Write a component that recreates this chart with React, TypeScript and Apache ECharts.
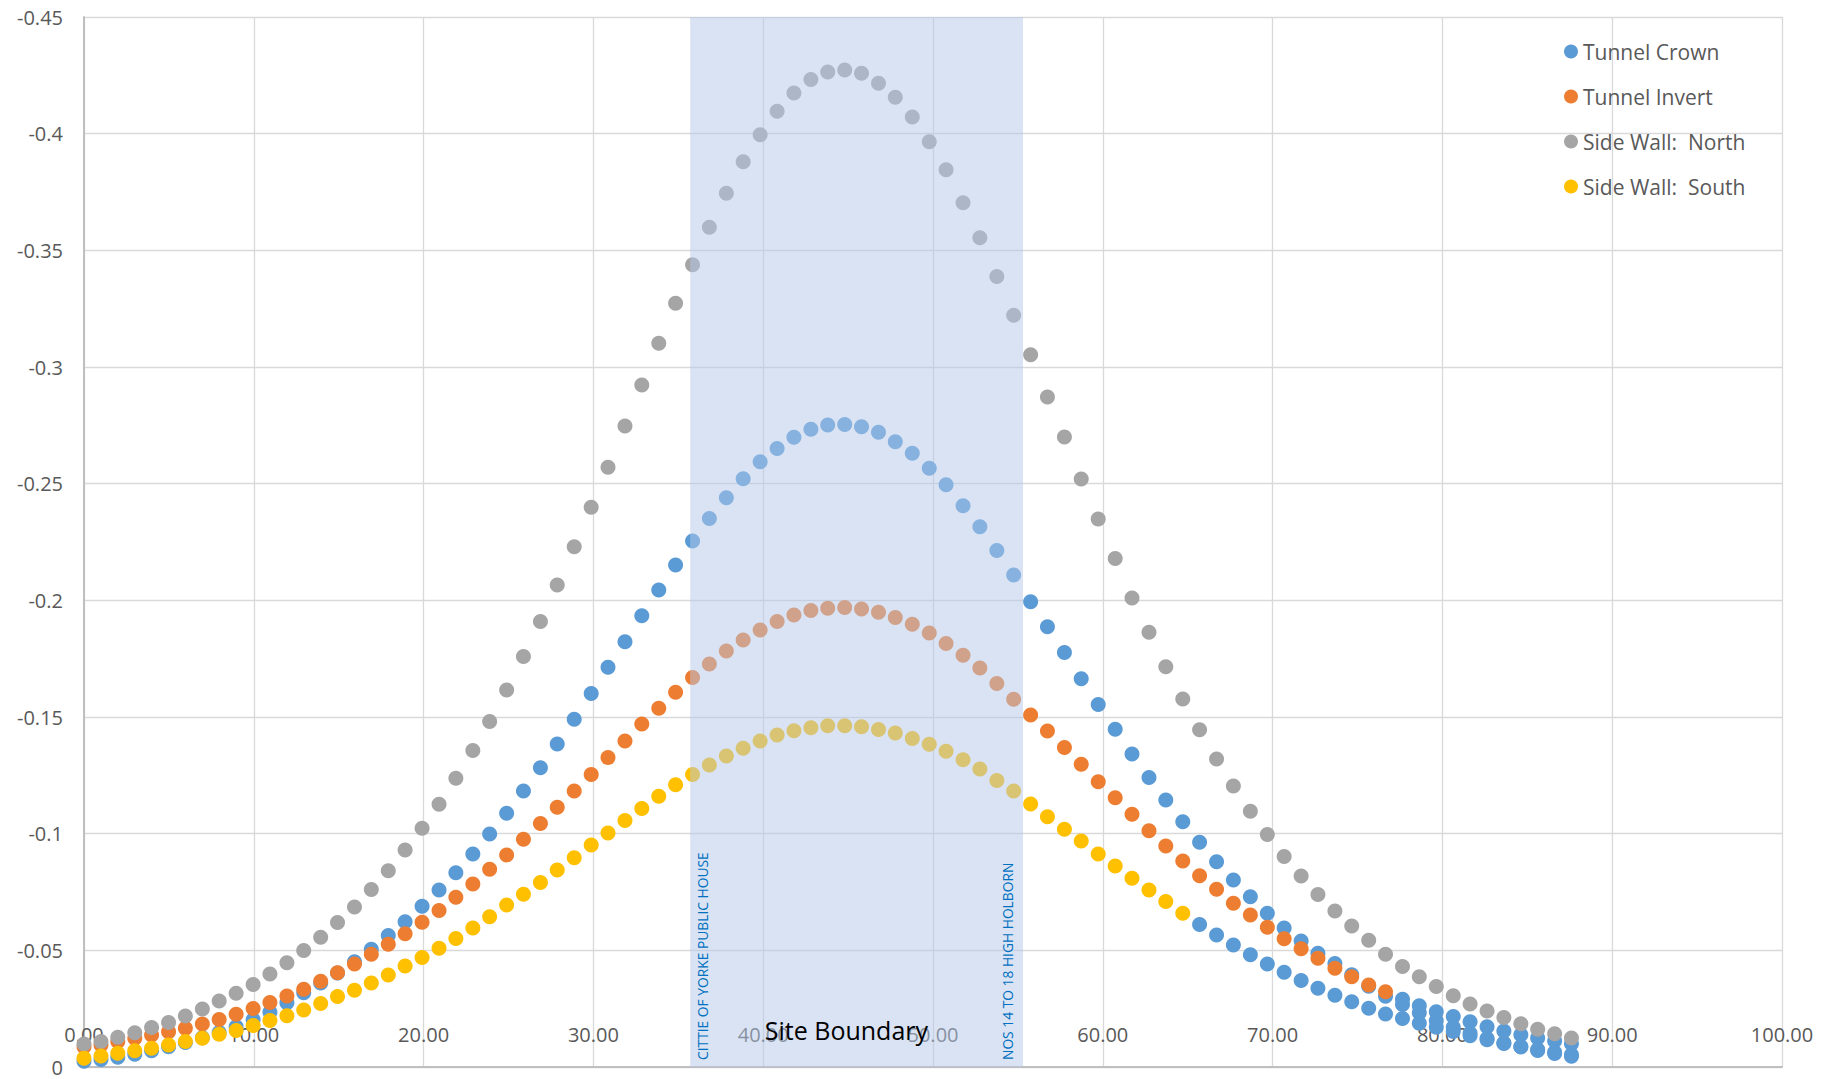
import React, { useEffect, useRef } from "react";
import * as echarts from "echarts";

// Chainage (m) of each settlement point
const chainage = [
  0, 1.0, 1.99, 2.99, 3.98, 4.98, 5.97, 6.97, 7.96, 8.96,
  9.96, 10.95, 11.95, 12.94, 13.94, 14.93, 15.93, 16.92, 17.92, 18.91,
  19.91, 20.91, 21.9, 22.9, 23.89, 24.89, 25.88, 26.88, 27.87, 28.87,
  29.87, 30.86, 31.86, 32.85, 33.85, 34.84, 35.84, 36.83, 37.83, 38.82,
  39.82, 40.82, 41.81, 42.81, 43.8, 44.8, 45.79, 46.79, 47.78, 48.78,
  49.78, 50.77, 51.77, 52.76, 53.76, 54.75, 55.75, 56.74, 57.74, 58.73,
  59.73, 60.73, 61.72, 62.72, 63.71, 64.71, 65.7, 66.7, 67.69, 68.69,
  69.69, 70.68, 71.68, 72.67, 73.67, 74.66, 75.66, 76.65, 77.65, 78.64,
  79.64, 80.64, 81.63, 82.63, 83.62, 84.62, 85.61, 86.61, 87.6,
];

const tunnelCrown = [
  -0.0025, -0.0032, -0.0042, -0.0055, -0.007, -0.0087, -0.0105, -0.0125, -0.0148, -0.0173,
  -0.0202, -0.0235, -0.0275, -0.0318, -0.036, -0.0403, -0.0451, -0.0505, -0.0564, -0.0623,
  -0.0689, -0.0759, -0.0833, -0.0913, -0.0999, -0.1087, -0.1183, -0.1283, -0.1384, -0.149,
  -0.1601, -0.1713, -0.1823, -0.1934, -0.2044, -0.2151, -0.2254, -0.2351, -0.244, -0.2521,
  -0.2594, -0.2651, -0.2699, -0.2733, -0.2751, -0.2754, -0.2744, -0.272, -0.268, -0.263,
  -0.2566, -0.2495, -0.2405, -0.2315, -0.2214, -0.2109, -0.1994, -0.1887, -0.1776, -0.1664,
  -0.1554, -0.1447, -0.1341, -0.1241, -0.1144, -0.1051, -0.0963, -0.088, -0.0801, -0.073,
  -0.0659, -0.0596, -0.054, -0.0487, -0.0444, -0.0395, -0.0346, -0.0303, -0.0268, -0.0232,
  -0.0198, -0.017, -0.0145, -0.0122, -0.0103, -0.0086, -0.0071, -0.0058, -0.0046,
];
// extra Tunnel Crown points (chainage index 78..88)
const tunnelCrownExtraUpper = [
  -0.029, -0.0262, -0.0237, -0.0216, -0.0194, -0.0173, -0.0154, -0.0138, -0.0124, -0.0111, -0.01,
];
// extra Tunnel Crown points (chainage index 66..88)
const tunnelCrownExtraLower = [
  -0.0611, -0.0566, -0.0523, -0.0481, -0.0441, -0.0406, -0.0371, -0.0338, -0.0307, -0.028,
  -0.0252, -0.0227, -0.0208, -0.0188, -0.017, -0.0152, -0.0134, -0.0117, -0.0101, -0.0088,
  -0.0075, -0.0063, -0.0052,
];

const tunnelInvert = [
  -0.0087, -0.0094, -0.0109, -0.0123, -0.0137, -0.0151, -0.0166, -0.0184, -0.0204, -0.0226,
  -0.0251, -0.0276, -0.0304, -0.0333, -0.0368, -0.0404, -0.0441, -0.0483, -0.0526, -0.0571,
  -0.062, -0.0671, -0.0727, -0.0784, -0.0847, -0.0909, -0.0976, -0.1044, -0.1113, -0.1183,
  -0.1254, -0.1326, -0.1397, -0.147, -0.1537, -0.1606, -0.1669, -0.1727, -0.1783, -0.183,
  -0.1873, -0.1909, -0.1937, -0.1956, -0.1966, -0.1969, -0.1963, -0.1949, -0.1926, -0.1897,
  -0.186, -0.1815, -0.1765, -0.171, -0.1644, -0.1576, -0.1509, -0.144, -0.1369, -0.1297,
  -0.1223, -0.1154, -0.1083, -0.1013, -0.0947, -0.0883, -0.082, -0.0762, -0.0702, -0.0651,
  -0.0599, -0.055, -0.0507, -0.0466, -0.0423, -0.0387, -0.0351, -0.0323,
];

const sideWallNorth = [
  -0.0099, -0.0109, -0.0127, -0.0147, -0.0169, -0.0191, -0.0219, -0.0249, -0.0283, -0.0316,
  -0.0354, -0.0399, -0.0447, -0.0499, -0.0556, -0.0619, -0.0686, -0.0761, -0.0841, -0.093,
  -0.1023, -0.1126, -0.1237, -0.1356, -0.1481, -0.1616, -0.1759, -0.1909, -0.2066, -0.223,
  -0.2399, -0.257, -0.2747, -0.2923, -0.3102, -0.3273, -0.3438, -0.3599, -0.3745, -0.388,
  -0.3995, -0.4096, -0.4174, -0.4232, -0.4264, -0.4273, -0.4259, -0.4216, -0.4156, -0.4071,
  -0.3965, -0.3845, -0.3704, -0.3554, -0.3388, -0.3222, -0.3052, -0.2871, -0.27, -0.252,
  -0.2349, -0.2179, -0.201, -0.1863, -0.1715, -0.1577, -0.1445, -0.132, -0.1204, -0.1096,
  -0.0996, -0.0902, -0.0819, -0.0739, -0.0669, -0.0604, -0.0543, -0.0483, -0.0431, -0.0387,
  -0.0345, -0.0305, -0.027, -0.024, -0.0212, -0.0185, -0.0162, -0.0142, -0.0124,
];

const sideWallSouth = [
  -0.0037, -0.0047, -0.0059, -0.007, -0.008, -0.0094, -0.0109, -0.0123, -0.014, -0.0156,
  -0.0178, -0.0199, -0.022, -0.0244, -0.0272, -0.0302, -0.0329, -0.036, -0.0394, -0.0433,
  -0.0469, -0.0509, -0.0551, -0.0596, -0.0644, -0.0694, -0.074, -0.0791, -0.0844, -0.0897,
  -0.0951, -0.1003, -0.1056, -0.1108, -0.116, -0.121, -0.1254, -0.1294, -0.1333, -0.1366,
  -0.1397, -0.1423, -0.1441, -0.1454, -0.1463, -0.1463, -0.1458, -0.1446, -0.1431, -0.1408,
  -0.1383, -0.1353, -0.1317, -0.1277, -0.1228, -0.1183, -0.1127, -0.1073, -0.1019, -0.0969,
  -0.0913, -0.0861, -0.0809, -0.0759, -0.0709, -0.0659,
];

const seriesNames = ["Tunnel Crown", "Tunnel Invert", "Side Wall:  North", "Side Wall:  South"];
const seriesColors = ["#5b9bd5", "#ed7d31", "#a5a5a5", "#ffc000"];
const siteBoundary = [35.7, 55.3];
const boundaryLabels = ["CITTIE OF YORKE PUBLIC HOUSE", "NOS 14 TO 18 HIGH HOLBORN"];
const boundaryTitle = "Site Boundary";

const FONT = "'Open Sans', 'Noto Sans', sans-serif";

function pairs(values: number[], offset: number) {
  return values.map((v, i) => [chainage[i + offset], v]);
}

export default function App() {
  const ref = useRef<HTMLDivElement>(null);

  useEffect(() => {
    document.body.style.margin = "0";
    document.body.style.overflow = "hidden";
    if (!ref.current) return;
    const chart = echarts.init(ref.current, undefined, { renderer: "svg" });

    const crownData = [
      ...pairs(tunnelCrown, 0),
      ...pairs(tunnelCrownExtraLower, 66),
      ...pairs(tunnelCrownExtraUpper, 78),
    ];
    const allData = [
      crownData,
      pairs(tunnelInvert, 0),
      pairs(sideWallNorth, 0),
      pairs(sideWallSouth, 0),
    ];

    chart.setOption({
      animation: false,
      backgroundColor: "#ffffff",
      grid: { left: 84, top: 17, right: 54, bottom: 12, containLabel: false },
      legend: {
        data: seriesNames,
        orient: "vertical",
        left: 1559,
        top: 36,
        icon: "circle",
        itemWidth: 14,
        itemHeight: 14,
        itemGap: 24,
        textStyle: { fontSize: 21, color: "#595959", fontFamily: FONT, lineHeight: 21 },
      },
      xAxis: {
        type: "value",
        min: 0,
        max: 100,
        interval: 10,
        z: 0,
        axisLine: { show: true, onZero: false, lineStyle: { color: "#bfbfbf", width: 2 } },
        axisTick: { show: false },
        splitLine: { show: true, lineStyle: { color: "#d9d9d9", width: 1.3 } },
        axisLabel: {
          margin: -43,
          fontSize: 20,
          color: "#595959",
          fontFamily: FONT,
          formatter: (v: number) => v.toFixed(2),
        },
      },
      yAxis: {
        type: "value",
        inverse: true,
        min: -0.45,
        max: 0,
        interval: 0.05,
        z: 0,
        axisLine: { show: true, lineStyle: { color: "#bfbfbf", width: 2 } },
        axisTick: { show: false },
        splitLine: { show: true, lineStyle: { color: "#d9d9d9", width: 1.3 } },
        axisLabel: {
          margin: 21,
          fontSize: 20,
          color: "#595959",
          fontFamily: FONT,
          formatter: (v: number) => (Math.abs(v) < 1e-9 ? "0" : String(+v.toFixed(2))),
        },
      },
      series: [
        ...seriesNames.map((name, k) => ({
          name,
          type: "scatter",
          symbol: "circle",
          symbolSize: 15,
          itemStyle: { color: seriesColors[k], opacity: 1 },
          data: allData[k],
          z: 2,
        })),
        {
          name: "boundary",
          type: "scatter",
          data: [],
          silent: true,
          z: 10,
          markArea: {
            silent: true,
            z: 10,
            itemStyle: { color: "rgba(180,199,231,0.5)" },
            data: [[{ xAxis: siteBoundary[0] }, { xAxis: siteBoundary[1] }]],
          },
        },
      ],
    });

    const pL = chart.convertToPixel({ gridIndex: 0 } as any, [siteBoundary[0], 0]) as number[];
    const pR = chart.convertToPixel({ gridIndex: 0 } as any, [siteBoundary[1], 0]) as number[];
    const pM = chart.convertToPixel({ gridIndex: 0 } as any, [(siteBoundary[0] + siteBoundary[1]) / 2 - 0.6, 0]) as number[];

    chart.setOption({
      graphic: [
        {
          type: "text",
          x: pL[0] + 12,
          y: pL[1] - 7,
          rotation: Math.PI / 2,
          z: 20,
          silent: true,
          style: {
            text: boundaryLabels[0],
            fill: "#0070c0",
            fontSize: 13.8,
            fontFamily: FONT,
            align: "left",
            verticalAlign: "middle",
          },
        },
        {
          type: "text",
          x: pR[0] - 15.5,
          y: pR[1] - 7,
          rotation: Math.PI / 2,
          z: 20,
          silent: true,
          style: {
            text: boundaryLabels[1],
            fill: "#0070c0",
            fontSize: 13.8,
            fontFamily: FONT,
            align: "left",
            verticalAlign: "middle",
          },
        },
        {
          type: "text",
          x: pM[0],
          y: pM[1] - 37,
          z: 20,
          silent: true,
          style: {
            text: boundaryTitle,
            fill: "#000000",
            fontSize: 25,
            fontFamily: FONT,
            align: "center",
            verticalAlign: "middle",
          },
        },
      ],
    });

    return () => {
      chart.dispose();
    };
  }, []);

  return <div ref={ref} style={{ width: 1836, height: 1079 }} />;
}
